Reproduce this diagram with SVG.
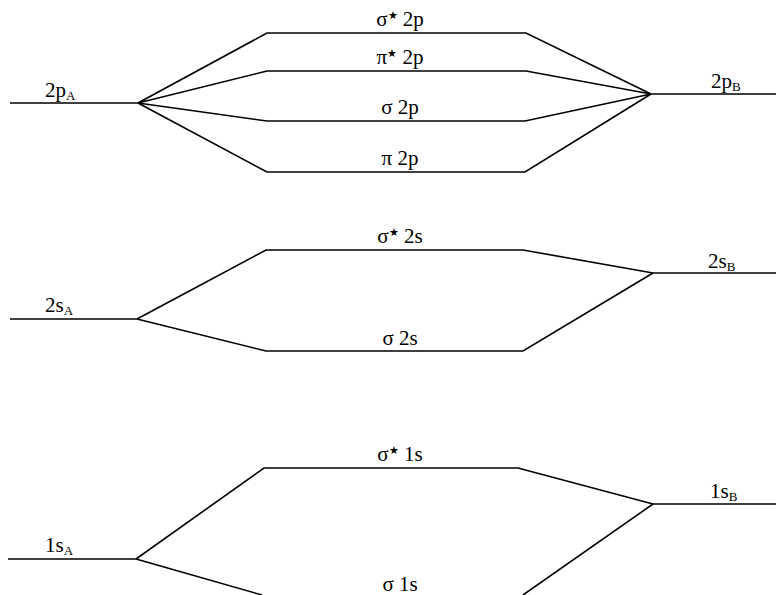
<svg xmlns="http://www.w3.org/2000/svg" width="776" height="595" viewBox="0 0 776 595">
<style>
.ln{fill:none;stroke:#000;stroke-width:1.6;stroke-linejoin:miter}
text{font-family:"Liberation Serif","Times New Roman",serif;font-size:21px;fill:#000}
.mo{text-anchor:middle}
.sub{font-size:13px}
.st{font-size:11px}
</style>
<rect width="776" height="595" fill="#fff"/>
<g id="connectors">
<path class="ln" d="M10,103 H138 M138,103 L267,33 H526 L651,94 M138,103 L267,71 H526 L651,94 M138,103 L267,121 H525 L651,94 M138,103 L267,172 H525 L651,94 M651,94 H776"/>
<path class="ln" d="M10,319 H137 M137,319 L266,250 H523 L653,273 M137,319 L266,351 H523 L653,273 M653,273 H776"/>
<path class="ln" d="M8,559 H136 M136,559 L264,468 H518 L653,504 M136,559 L262,595 M523,595 L653,504 M653,504 H776"/>
</g>
<g id="n2pA"><text x="45" y="97">2p<tspan class="sub" dy="3">A</tspan></text></g>
<g id="n2pB"><text x="711" y="88">2p<tspan class="sub" dy="3">B</tspan></text></g>
<g id="nss2p"><text class="mo" x="400" y="26">σ<tspan class="st" dy="-7">★</tspan><tspan dy="7"> 2p</tspan></text></g>
<g id="nps2p"><text class="mo" x="400" y="64">π<tspan class="st" dy="-7">★</tspan><tspan dy="7"> 2p</tspan></text></g>
<g id="ns2p"><text class="mo" x="400" y="114">σ 2p</text></g>
<g id="np2p"><text class="mo" x="400" y="165">π 2p</text></g>
<g id="n2sA"><text x="45" y="312">2s<tspan class="sub" dy="3">A</tspan></text></g>
<g id="n2sB"><text x="708" y="268">2s<tspan class="sub" dy="3">B</tspan></text></g>
<g id="nss2s"><text class="mo" x="400" y="243">σ<tspan class="st" dy="-7">★</tspan><tspan dy="7"> 2s</tspan></text></g>
<g id="ns2s"><text class="mo" x="400" y="345">σ 2s</text></g>
<g id="n1sA"><text x="45" y="552">1s<tspan class="sub" dy="3">A</tspan></text></g>
<g id="n1sB"><text x="710" y="498">1s<tspan class="sub" dy="3">B</tspan></text></g>
<g id="nss1s"><text class="mo" x="400" y="461">σ<tspan class="st" dy="-7">★</tspan><tspan dy="7"> 1s</tspan></text></g>
<g id="ns1s"><text class="mo" x="400" y="591">σ 1s</text></g>
</svg>
